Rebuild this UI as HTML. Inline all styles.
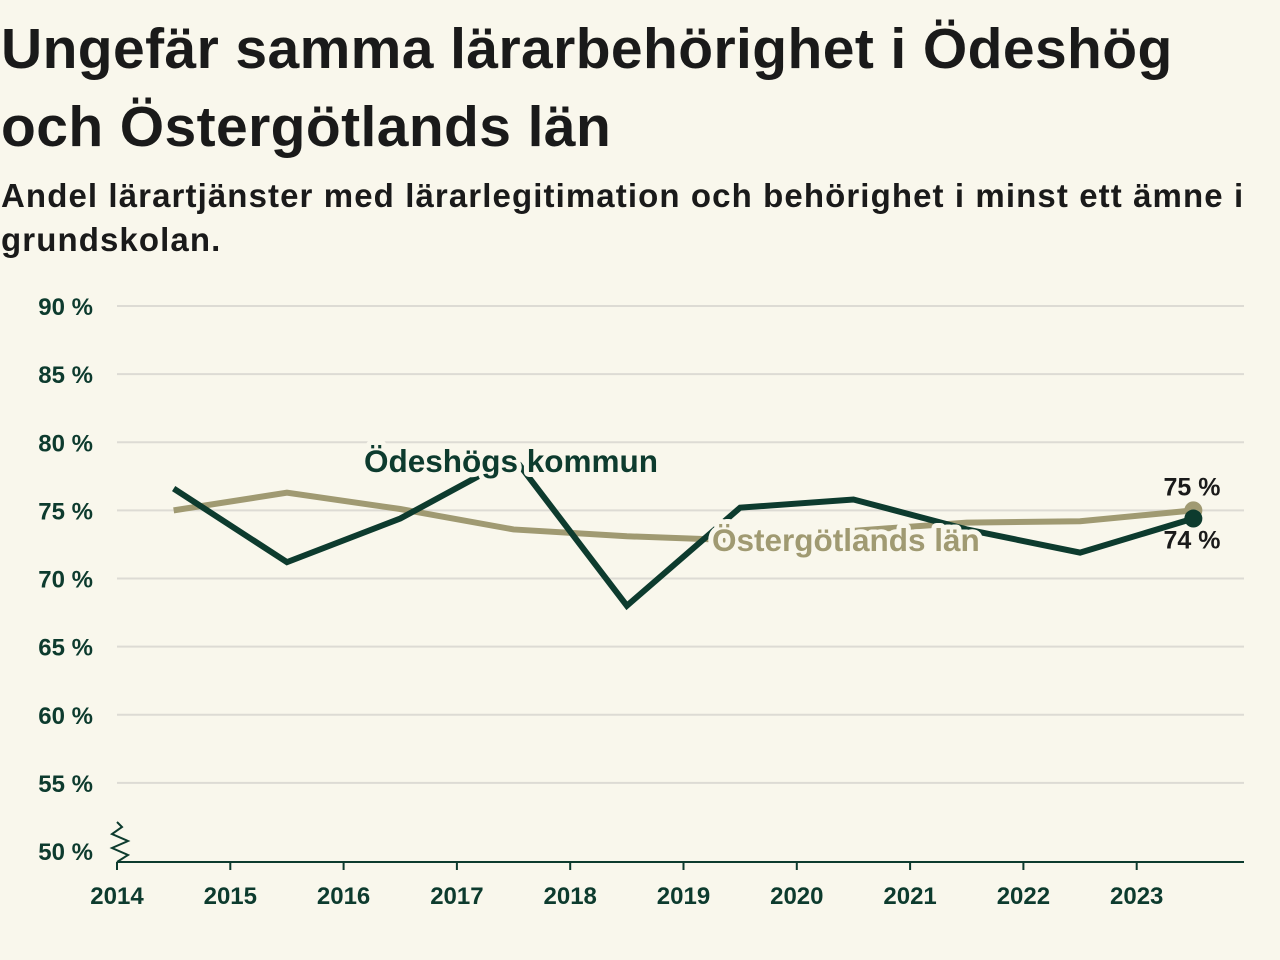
<!DOCTYPE html>
<html><head><meta charset="utf-8"><style>
body{margin:0;background:#f9f7ec;width:1280px;height:960px;overflow:hidden;font-family:"Liberation Sans",sans-serif;color:#1a1a1a}
h1{position:absolute;left:1px;top:10px;margin:0;font-size:57px;font-weight:bold;line-height:78px;white-space:nowrap;letter-spacing:0.4px}
h2{position:absolute;left:1px;top:174px;margin:0;font-size:33px;font-weight:bold;line-height:44px;white-space:nowrap;letter-spacing:1.1px}
svg{position:absolute;left:0;top:0}
</style></head><body>
<h1>Ungefär samma lärarbehörighet i Ödeshög<br>och Östergötlands län</h1>
<h2>Andel lärartjänster med lärarlegitimation och behörighet i minst ett ämne i<br>grundskolan.</h2>
<svg id="chart" width="1280" height="960"></svg>
<script>
const years=[2014.5,2015.5,2016.5,2017.5,2018.5,2019.5,2020.5,2021.5,2022.5,2023.5];
const odeshog=[76.6,71.2,74.4,78.9,68.0,75.2,75.8,73.6,71.9,74.4];
const ostergotland=[75.0,76.3,75.1,73.6,73.1,72.8,73.5,74.1,74.2,75.0];
const yTicks=[50,55,60,65,70,75,80,85,90];
const xTicks=[2014,2015,2016,2017,2018,2019,2020,2021,2022,2023];
const NS="http://www.w3.org/2000/svg";
const svg=document.getElementById('chart');
const X=v=>117+(v-2014)*113.3;
const Y=v=>851-(v-50)*13.625;
function el(t,a,txt){const e=document.createElementNS(NS,t);for(const k in a)e.setAttribute(k,a[k]);if(txt!=null)e.textContent=txt;svg.appendChild(e);return e;}
yTicks.forEach(t=>{
  if(t>50){const g=el('line',{x1:117,x2:1244,y1:Y(t),y2:Y(t),stroke:'#dddbd4','stroke-width':2});
  
  }
  const l=el('text',{x:93,y:Y(t)+9,'text-anchor':'end','font-size':24,'font-weight':'bold',fill:'#0d3b2e'},t+' %');
  
  
});
const ax=el('line',{x1:117,x2:1244,y1:862,y2:862,stroke:'#0d3b2e','stroke-width':2});


const br=el('path',{d:'M117 822 L122 827 L112 834 L128 841 L112 848 L128 855 L117 862',fill:'none',stroke:'#0d3b2e','stroke-width':2});


xTicks.forEach(t=>{
  const tk=el('line',{x1:X(t),x2:X(t),y1:862,y2:870,stroke:'#0d3b2e','stroke-width':2});
  
  
  const l=el('text',{x:X(t),y:904,'text-anchor':'middle','font-size':24,'font-weight':'bold',fill:'#0d3b2e'},t);
  
  
});
function line(vals,color,name){
  const p=el('polyline',{points:vals.map((v,i)=>X(years[i])+','+Y(v)).join(' '),fill:'none',stroke:color,'stroke-width':6,'stroke-linejoin':'miter'});
  
  
  const n=vals.length-1;
  const c=el('circle',{cx:X(years[n]),cy:Y(vals[n]),r:9,fill:color});
  
  
}
line(ostergotland,'#a09a72','ostergotland');
line(odeshog,'#0d3b2e','odeshog');
function label(x,y,txt,color,name,anchor){
  const h=el('text',{x:x,y:y,'font-size':31.5,'font-weight':'bold',fill:color,stroke:'#f9f7ec','stroke-width':10,'stroke-linejoin':'round','text-anchor':anchor||'start'},txt);
  
  
  const t=el('text',{x:x,y:y,'font-size':31.5,'font-weight':'bold',fill:color,'text-anchor':anchor||'start'},txt);
  
  
}
label(364,472,'Ödeshögs kommun','#0d3b2e','odeshog-series-label');
label(712,551,'Östergötlands län','#a09a72','ostergotland-series-label');
const n=years.length-1;
const v1=el('text',{x:1192,y:Y(ostergotland[n])-15,'font-size':25,'font-weight':'bold','text-anchor':'middle',fill:'#1a1a1a'},Math.round(ostergotland[n])+' %');


const v2=el('text',{x:1192,y:Y(odeshog[n])+30,'font-size':25,'font-weight':'bold','text-anchor':'middle',fill:'#1a1a1a'},Math.round(odeshog[n])+' %');


</script>
</body></html>
